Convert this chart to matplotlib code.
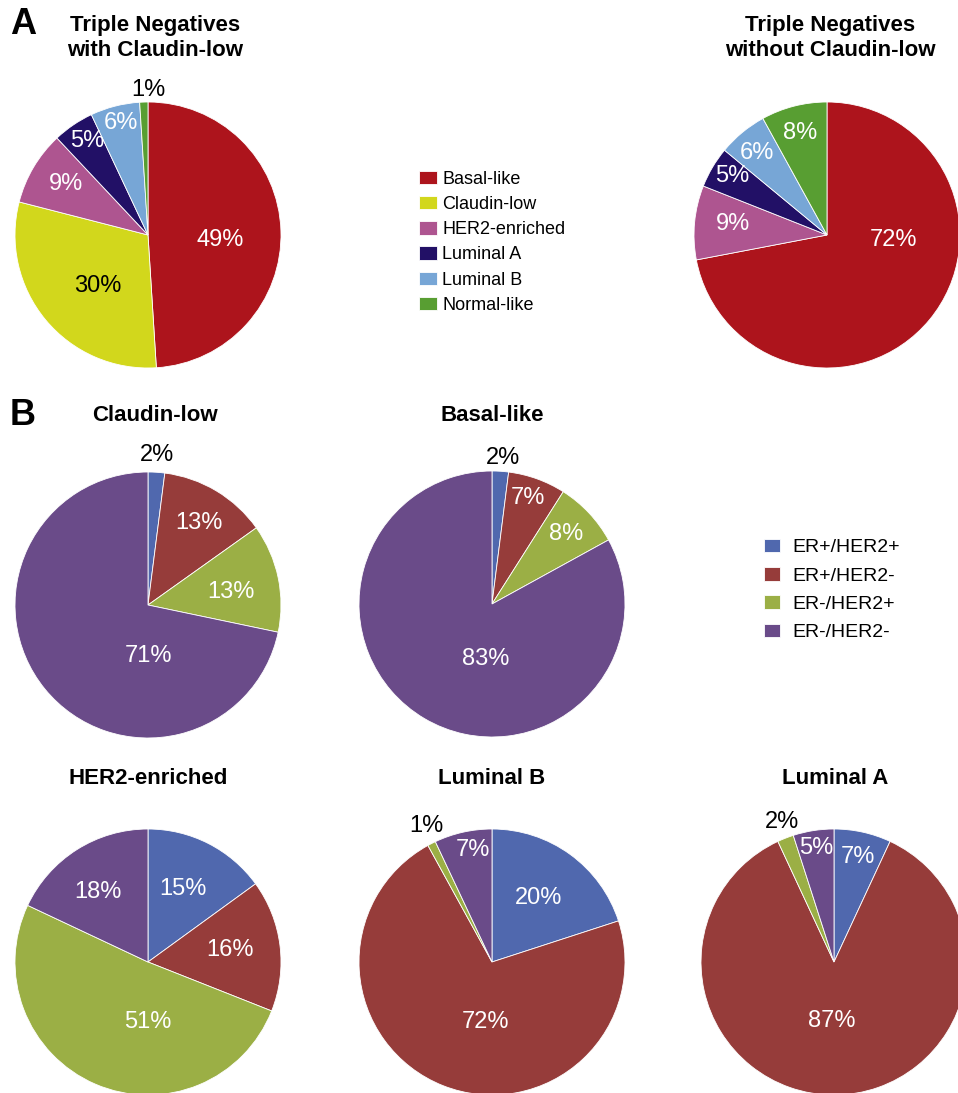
import matplotlib
matplotlib.use("Agg")
from matplotlib import pyplot as plt

plt.rcParams['font.family'] = ['Liberation Sans', 'DejaVu Sans']

W, H = 958, 1093
R = 133  # pie radius in pixels

# panel A: intrinsic subtypes within triple negatives
subtypes = ['Basal-like', 'Claudin-low', 'HER2-enriched', 'Luminal A', 'Luminal B', 'Normal-like']
subtype_colors = ['#AD141C', '#D2D71C', '#AE5590', '#221066', '#77A6D6', '#589E32']
tn_with_cl = [49, 30, 9, 5, 6, 1]
tn_without_cl = [72, 0, 9, 5, 6, 8]

# panel B: ER/HER2 status within each subtype
receptor = ['ER+/HER2+', 'ER+/HER2-', 'ER-/HER2+', 'ER-/HER2-']
receptor_colors = ['#5068AE', '#963C3A', '#9BAF45', '#6A4B89']
claudin_low = [2, 13, 13, 71]
basal_like = [2, 7, 8, 83]
her2_enriched = [15, 16, 51, 18]
luminal_b = [20, 72, 1, 7]
luminal_a = [7, 87, 2, 5]

fig = plt.figure(figsize=(W / 100, H / 100), dpi=100)


def draw_pie(cx, cy, values, colors, label_xy, dark=()):
    ax = fig.add_axes([(cx - R) / W, 1 - (cy + R) / H, 2 * R / W, 2 * R / H])
    keep = [i for i, v in enumerate(values) if v > 0]
    wedges, _ = ax.pie([values[i] for i in keep], colors=[colors[i] for i in keep],
                       startangle=90, counterclock=False, radius=1,
                       wedgeprops=dict(edgecolor='white', linewidth=0.6))
    for n, i in enumerate(keep):
        x, y = label_xy[n]
        c = 'black' if (i in dark or x * x + y * y > 1) else 'white'
        ax.text(x, y, f'{values[i]}%', ha='center', va='center', fontsize=17,
                color=c, clip_on=False)
    ax.set_xlim(-1, 1)
    ax.set_ylim(-1, 1)
    ax.set_aspect('equal')
    ax.axis('off')
    return wedges


def title(x, y, s):
    fig.text(x / W, 1 - y / H, s, ha='center', va='center', fontsize=16,
             fontweight='bold', linespacing=1.25)


# panel A
wA = draw_pie(148, 235, tn_with_cl, subtype_colors,
              [(0.54, -0.04), (-0.38, -0.38), (-0.62, 0.38), (-0.46, 0.71),
               (-0.20, 0.84), (0.0, 1.09)], dark=(1,))
draw_pie(827, 235, tn_without_cl, subtype_colors,
         [(0.50, -0.04), (-0.71, 0.08), (-0.71, 0.44), (-0.53, 0.62), (-0.20, 0.77)])
title(155, 38, 'Triple Negatives\nwith Claudin-low')
title(830, 38, 'Triple Negatives\nwithout Claudin-low')
fig.legend(wA, subtypes, loc='upper left', bbox_to_anchor=(410 / W, 1 - 162 / H),
           frameon=False, fontsize=13, handlelength=1.0, handleheight=0.75,
           handletextpad=0.3, labelspacing=0.45, borderpad=0)

# panel B
wB = draw_pie(148, 605, claudin_low, receptor_colors,
              [(0.07, 1.13), (0.38, 0.62), (0.62, 0.10), (0.0, -0.38)])
draw_pie(492, 604, basal_like, receptor_colors,
         [(0.08, 1.10), (0.27, 0.80), (0.56, 0.53), (-0.05, -0.41)])
draw_pie(148, 962, her2_enriched, receptor_colors,
         [(0.26, 0.55), (0.62, 0.09), (0.0, -0.45), (-0.38, 0.53)])
draw_pie(492, 962, luminal_b, receptor_colors,
         [(0.35, 0.48), (-0.05, -0.45), (-0.49, 1.02), (-0.14, 0.84)])
draw_pie(834, 962, luminal_a, receptor_colors,
         [(0.18, 0.79), (-0.02, -0.44), (-0.39, 1.05), (-0.13, 0.86)])
title(155, 416, 'Claudin-low')
title(492, 416, 'Basal-like')
title(148, 779, 'HER2-enriched')
title(492, 779, 'Luminal B')
title(835, 779, 'Luminal A')
fig.legend(wB, receptor, loc='upper left', bbox_to_anchor=(754 / W, 1 - 529 / H),
           frameon=False, fontsize=14, handlelength=0.85, handleheight=0.7,
           handletextpad=0.6, labelspacing=0.55, borderpad=0)

fig.text(10 / W, 1 - 25 / H, 'A', fontsize=26, fontweight='bold', va='center')
fig.text(10 / W, 1 - 416 / H, 'B', fontsize=26, fontweight='bold', va='center')

fig.savefig('out.png', dpi=100)
